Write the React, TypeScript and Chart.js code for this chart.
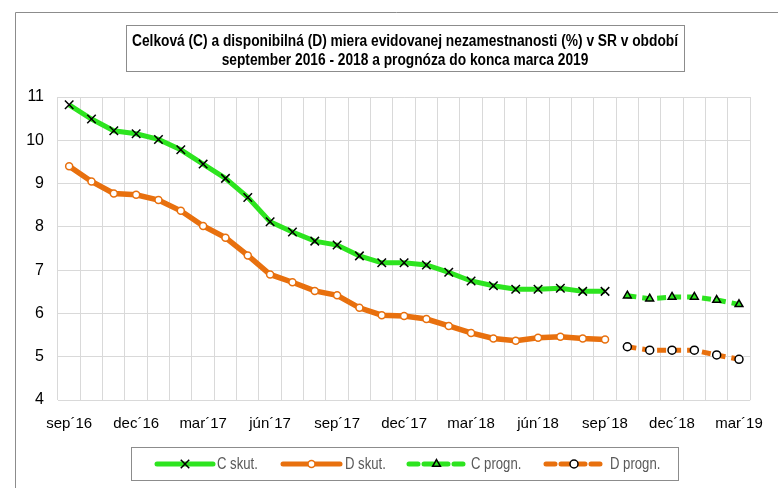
import React, { useEffect, useRef } from 'react';
import { Chart, registerables } from 'chart.js';

Chart.register(...registerables);

const months = [
  'sep´16', 'okt´16', 'nov´16', 'dec´16', 'jan´17', 'feb´17', 'mar´17', 'apr´17', 'máj´17', 'jún´17', 'júl´17', 'aug´17',
  'sep´17', 'okt´17', 'nov´17', 'dec´17', 'jan´18', 'feb´18', 'mar´18', 'apr´18', 'máj´18', 'jún´18', 'júl´18', 'aug´18',
  'sep´18', 'okt´18', 'nov´18', 'dec´18', 'jan´19', 'feb´19', 'mar´19',
];
const cSkut = [10.82, 10.49, 10.22, 10.15, 10.02, 9.78, 9.45, 9.12, 8.68, 8.12, 7.88, 7.67, 7.58, 7.33, 7.17, 7.17, 7.12, 6.95, 6.75, 6.64, 6.56, 6.56, 6.58, 6.51, 6.51];
const dSkut = [9.4, 9.05, 8.77, 8.74, 8.62, 8.37, 8.02, 7.75, 7.34, 6.9, 6.72, 6.52, 6.42, 6.13, 5.96, 5.94, 5.87, 5.71, 5.55, 5.42, 5.37, 5.44, 5.46, 5.42, 5.4];
const cProgn = [6.41, 6.34, 6.38, 6.38, 6.31, 6.21];
const dProgn = [5.23, 5.15, 5.15, 5.15, 5.04, 4.94];
const yMin = 4;
const yMax = 11;
const titleLines = [
  'Celková (C) a disponibilná (D) miera evidovanej nezamestnanosti (%) v SR v období',
  'september 2016 - 2018 a prognóza do konca marca 2019',
];
const legendLabels = ['C skut.', 'D skut.', 'C progn.', 'D progn.'];

const GREEN = '#2de41f';
const ORANGE = '#e8700e';
const FONT = '"Liberation Sans Narrow", "Arial Narrow", "Liberation Sans", Arial, sans-serif';
const DASH = [9, 6];

const padBefore = (arr: number[]) => [...Array(months.length - arr.length).fill(null), ...arr];

function drawMarker(ctx: CanvasRenderingContext2D, kind: string, x: number, y: number) {
  ctx.save();
  ctx.setLineDash([]);
  if (kind === 'x') {
    const r = 6 * Math.SQRT1_2;
    ctx.strokeStyle = '#000';
    ctx.lineWidth = 1.5;
    ctx.beginPath();
    ctx.moveTo(x - r, y - r); ctx.lineTo(x + r, y + r);
    ctx.moveTo(x + r, y - r); ctx.lineTo(x - r, y + r);
    ctx.stroke();
  } else if (kind === 'circO') {
    ctx.fillStyle = '#fff'; ctx.strokeStyle = ORANGE; ctx.lineWidth = 1.5;
    ctx.beginPath(); ctx.arc(x, y, 3.5, 0, Math.PI * 2); ctx.fill(); ctx.stroke();
  } else if (kind === 'tri') {
    const r = 4.5;
    ctx.fillStyle = GREEN; ctx.strokeStyle = '#000'; ctx.lineWidth = 1.5;
    ctx.beginPath();
    ctx.moveTo(x, y - r);
    ctx.lineTo(x + r * 0.866, y + r * 0.5);
    ctx.lineTo(x - r * 0.866, y + r * 0.5);
    ctx.closePath(); ctx.fill(); ctx.stroke();
  } else if (kind === 'circK') {
    ctx.fillStyle = '#fff'; ctx.strokeStyle = '#000'; ctx.lineWidth = 1.5;
    ctx.beginPath(); ctx.arc(x, y, 4, 0, Math.PI * 2); ctx.fill(); ctx.stroke();
  }
  ctx.restore();
}

function narrowText(ctx: CanvasRenderingContext2D, text: string, x: number, y: number, sx: number, align: CanvasTextAlign) {
  ctx.save();
  ctx.translate(x, y);
  ctx.scale(sx, 1);
  ctx.textAlign = align;
  ctx.fillText(text, 0, 0);
  ctx.restore();
}

const decor = {
  id: 'decor',
  beforeDraw(chart: any) {
    const ctx = chart.ctx as CanvasRenderingContext2D;
    ctx.save();
    ctx.fillStyle = '#fff';
    ctx.fillRect(0, 0, chart.width, chart.height);
    ctx.strokeStyle = '#8c8c8c';
    ctx.lineWidth = 1;
    ctx.beginPath();
    ctx.moveTo(15.5, chart.height);
    ctx.lineTo(15.5, 12.5);
    ctx.lineTo(chart.width, 12.5);
    ctx.stroke();
    ctx.restore();
  },
  afterDraw(chart: any) {
    const ctx = chart.ctx as CanvasRenderingContext2D;
    ctx.save();
    // title box
    ctx.strokeStyle = '#8c8c8c';
    ctx.lineWidth = 1;
    ctx.strokeRect(126.5, 25.5, 558, 46);
    ctx.fillStyle = '#000';
    ctx.font = `bold 16px ${FONT}`;
    ctx.textBaseline = 'middle';
    const w0 = ctx.measureText(titleLines[0]).width;
    const sx = Math.min(1, 546 / w0);
    narrowText(ctx, titleLines[0], 405, 42, sx, 'center');
    narrowText(ctx, titleLines[1], 405, 61, sx, 'center');

    // legend box
    ctx.strokeRect(131.5, 447.5, 547, 33);
    const ly = 464;
    const items = [
      { x0: 157, x1: 213, tx: 217, color: GREEN, dash: false, marker: 'x' },
      { x0: 283, x1: 340, tx: 345, color: ORANGE, dash: false, marker: 'circO' },
      { x0: 409, x1: 464, tx: 471, color: GREEN, dash: true, marker: 'tri' },
      { x0: 546, x1: 602, tx: 610, color: ORANGE, dash: true, marker: 'circK' },
    ];
    items.forEach((it, i) => {
      ctx.save();
      ctx.strokeStyle = it.color;
      ctx.lineWidth = 5;
      ctx.lineCap = 'round';
      ctx.setLineDash(it.dash ? DASH : []);
      ctx.beginPath();
      ctx.moveTo(it.x0, ly);
      ctx.lineTo(it.x1, ly);
      ctx.stroke();
      ctx.restore();
      drawMarker(ctx, it.marker, (it.x0 + it.x1) / 2, ly);
      ctx.fillStyle = '#595959';
      ctx.font = `16px ${FONT}`;
      ctx.textBaseline = 'middle';
      narrowText(ctx, legendLabels[i], it.tx, ly + 1, 0.82, 'left');
    });
    ctx.restore();
  },
};

export default function App() {
  const ref = useRef<HTMLCanvasElement | null>(null);
  useEffect(() => {
    if (!ref.current) return;
    const chart = new Chart(ref.current, {
      type: 'line',
      data: {
        labels: months,
        datasets: [
          {
            label: legendLabels[0],
            data: cSkut,
            borderColor: GREEN,
            borderWidth: 5,
            pointStyle: 'crossRot',
            pointRadius: 6,
            pointBorderColor: '#000',
            pointBorderWidth: 1.5,
            pointBackgroundColor: '#000',
            tension: 0,
          },
          {
            label: legendLabels[1],
            data: dSkut,
            borderColor: ORANGE,
            borderWidth: 5.5,
            pointStyle: 'circle',
            pointRadius: 3.5,
            pointBorderColor: ORANGE,
            pointBorderWidth: 1.5,
            pointBackgroundColor: '#fff',
            tension: 0,
          },
          {
            label: legendLabels[2],
            data: padBefore(cProgn),
            borderColor: GREEN,
            borderWidth: 5,
            borderDash: DASH,
            pointStyle: 'triangle',
            pointRadius: 4.5,
            pointBorderColor: '#000',
            pointBorderWidth: 1.5,
            pointBackgroundColor: GREEN,
            tension: 0,
          },
          {
            label: legendLabels[3],
            data: padBefore(dProgn),
            borderColor: ORANGE,
            borderWidth: 5,
            borderDash: DASH,
            pointStyle: 'circle',
            pointRadius: 4,
            pointBorderColor: '#000',
            pointBorderWidth: 1.5,
            pointBackgroundColor: '#fff',
            tension: 0,
          },
        ],
      },
      options: {
        responsive: false,
        animation: false,
        devicePixelRatio: 1,
        layout: { padding: { top: 97, right: 15, left: 0, bottom: 0 } },
        plugins: {
          legend: { display: false },
          title: { display: false },
          tooltip: { enabled: false },
        },
        scales: {
          x: {
            offset: true,
            grid: { offset: true, color: '#d9d9d9', lineWidth: 1, drawTicks: false },
            border: { display: false },
            ticks: {
              autoSkip: false,
              maxRotation: 0,
              padding: 15,
              color: '#000',
              font: { family: FONT, size: 15 },
              callback: (_v: any, i: number) => (i % 3 === 0 ? months[i] : ''),
            },
            afterFit: (s: any) => { s.height = 88; },
          },
          y: {
            min: yMin,
            max: yMax,
            grid: { color: '#d9d9d9', lineWidth: 1, drawTicks: false },
            border: { display: false },
            ticks: {
              stepSize: 1,
              padding: 14,
              color: '#000',
              font: { family: FONT, size: 16 },
            },
            afterFit: (s: any) => { s.width = 58; },
          },
        },
      },
      plugins: [decor],
    });
    return () => chart.destroy();
  }, []);
  return (
    <div style={{ position: 'fixed', left: 0, top: 0, width: 778, height: 488, background: '#fff' }}>
      <canvas ref={ref} width={778} height={488} />
    </div>
  );
}
